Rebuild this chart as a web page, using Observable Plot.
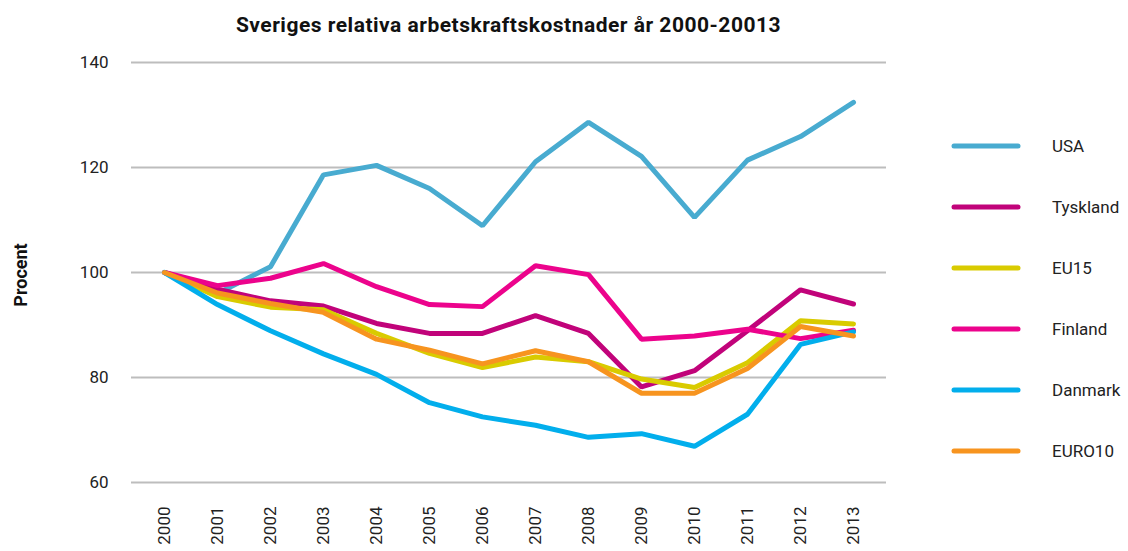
<!DOCTYPE html>
<html>
<head>
<meta charset="utf-8">
<script src="https://cdn.jsdelivr.net/npm/d3@7"></script>
<script src="https://cdn.jsdelivr.net/npm/@observablehq/plot@0.6"></script>
<style>
  html, body { margin: 0; padding: 0; background: #fff; }
  body { width: 1128px; height: 551px; position: relative; overflow: hidden; font-family: Roboto, "Noto Sans", sans-serif; color: #222; }
  #title { position: absolute; left: 131px; width: 755px; top: 13px; text-align: center; font-weight: 700; font-size: 21px; letter-spacing: 0.5px; color: #111; }
  #chart { position: absolute; left: 0; top: 50px; }
  #ylabel { position: absolute; left: 20px; top: 275px; transform: translate(-50%, -50%) rotate(-90deg); font-weight: 700; font-size: 18px; color: #111; white-space: nowrap; }
  #legend { position: absolute; left: 950px; top: 131px; }
  .item { display: flex; align-items: center; height: 30px; margin-bottom: 31px; }
  .item svg { margin-right: 30px; }
  .item span { font-size: 17px; color: #222; }
</style>
</head>
<body>
<div id="title">Sveriges relativa arbetskraftskostnader år 2000-20013</div>
<div id="ylabel">Procent</div>
<div id="chart"></div>
<div id="legend"></div>
<script>
const years = [2000, 2001, 2002, 2003, 2004, 2005, 2006, 2007, 2008, 2009, 2010, 2011, 2012, 2013];
const seriesNames = ["USA", "Tyskland", "EU15", "Finland", "Danmark", "EURO10"];
const seriesColors = ["#48ABD0", "#C1037A", "#D9CB00", "#EC038C", "#02AEEC", "#F7941F"];
const yTicks = [60, 80, 100, 120, 140];

const usa      = [100, 96.0, 101.1, 118.6, 120.4, 116.0, 108.9, 121.1, 128.6, 122.1, 110.5, 121.4, 125.9, 132.4];
const tyskland = [100, 96.8, 94.6, 93.6, 90.3, 88.4, 88.4, 91.8, 88.4, 78.2, 81.3, 88.9, 96.7, 94.0];
const eu15     = [100, 95.4, 93.4, 92.9, 88.4, 84.6, 81.9, 83.9, 83.0, 79.7, 78.1, 82.8, 90.8, 90.2];
const finland  = [100, 97.5, 98.9, 101.7, 97.3, 93.9, 93.5, 101.3, 99.6, 87.3, 87.9, 89.2, 87.4, 89.0];
const danmark  = [100, 93.9, 88.9, 84.5, 80.6, 75.2, 72.5, 70.9, 68.6, 69.3, 66.9, 73.0, 86.3, 88.7];
const euro10   = [100, 96.1, 94.1, 92.4, 87.3, 85.2, 82.6, 85.1, 83.0, 77.0, 77.0, 81.7, 89.7, 87.9];

const seriesValues = [usa, tyskland, eu15, finland, danmark, euro10];
const data = [];
seriesNames.forEach((name, i) => {
  years.forEach((yr, j) => data.push({series: name, year: yr, value: seriesValues[i][j]}));
});

const chart = Plot.plot({
  width: 1128,
  height: 501,
  marginLeft: 131,
  marginRight: 242,
  marginTop: 12,
  marginBottom: 69,
  style: {fontFamily: "Roboto, 'Noto Sans', sans-serif", fontSize: "17px", color: "#222", background: "transparent"},
  x: {type: "point", domain: years, padding: 0.5},
  y: {domain: [60, 140]},
  color: {domain: seriesNames, range: seriesColors},
  marks: [
    Plot.gridY(yTicks, {stroke: "#bdbdbd", strokeOpacity: 1, strokeWidth: 2}),
    Plot.axisY(yTicks, {tickSize: 0, tickPadding: 23, label: null, fill: "#222"}),
    Plot.axisX(years, {tickSize: 0, tickPadding: 24, tickRotate: -90, label: null, fill: "#222", tickFormat: d => String(d)}),
    Plot.lineY(data, {x: "year", y: "value", z: "series", stroke: "series", strokeWidth: 5, strokeLinejoin: "miter", strokeLinecap: "round"})
  ]
});
document.getElementById("chart").appendChild(chart);

const legend = document.getElementById("legend");
seriesNames.forEach((name, i) => {
  const div = document.createElement("div");
  div.className = "item";
  div.innerHTML = `<svg width="72" height="10"><line x1="4" y1="5" x2="68" y2="5" stroke="${seriesColors[i]}" stroke-width="5" stroke-linecap="round"/></svg><span>${name}</span>`;
  legend.appendChild(div);
});
</script>
</body>
</html>
